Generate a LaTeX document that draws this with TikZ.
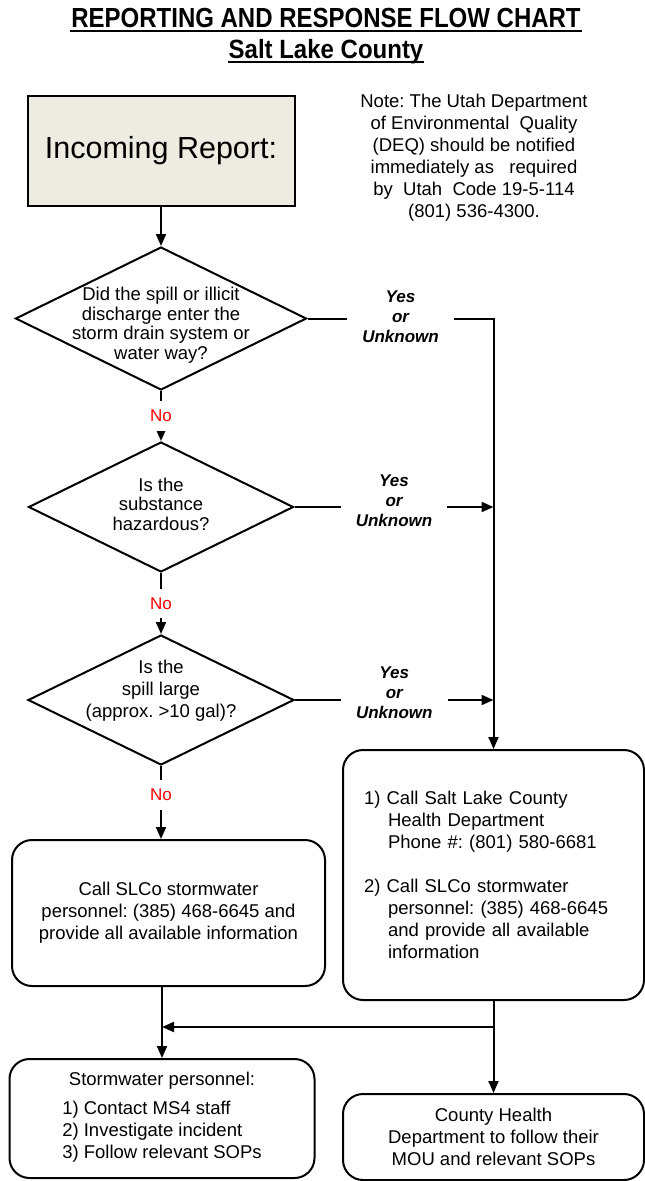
\documentclass[tikz,border=0pt]{standalone}
\usepackage{fontspec}
\setmainfont{Liberation Sans}
\usepackage{tikz}
\usetikzlibrary{shapes,arrows.meta,positioning,calc}
\definecolor{beige}{RGB}{238,236,225}
\frenchspacing

\begin{document}
\begin{tikzpicture}[x=1pt,y=-1pt,line width=2pt,
	>={Triangle[length=12pt,width=10pt]},
	body/.style={font=\fontsize{18.5}{22}\selectfont},
	decision/.style={diamond,draw=black,inner sep=0pt},
	box/.style={rectangle,draw=black,rounded corners=20pt,inner sep=0pt,body},
	nolab/.style={fill=white,text=red,font=\fontsize{17}{20}\selectfont,inner xsep=2pt,inner ysep=9pt},
	yeslab/.style={fill=white,align=center,inner xsep=15pt,inner ysep=0pt,
		font=\fontsize{17}{20}\selectfont\bfseries\itshape}]
	\useasboundingbox (0,0) rectangle (645,1181);

	\node (title) [anchor=base,inner sep=0pt] at (326,27) {\fontsize{24}{28}\selectfont\bfseries\scalebox{1}[1.15]{REPORTING AND RESPONSE FLOW CHART}};
	\node (county) [anchor=base,inner sep=0pt] at (326,58) {\fontsize{24}{28}\selectfont\bfseries\scalebox{1}[1.1]{Salt Lake County}};
	\draw ([yshift=-3.5pt]title.base west) -- ([yshift=-3.5pt]title.base east);
	\draw ([yshift=-4pt]county.base west) -- ([yshift=-4pt]county.base east);

	\node (inc) [rectangle,draw=black,fill=beige,minimum width=267pt,minimum height=110pt,
		font=\fontsize{30.5}{34}\selectfont] at (161,151) {\raisebox{4pt}{Incoming Report:}};
	\node (note) [body,align=center] at (474,158) {Note: The Utah Department\\of Environmental\ \ Quality\\(DEQ) should be\ notified\\immediately as\ \ \ required\\by\ \ Utah\ \ Code 19-5-114\\(801) 536-4300.};

	% questions
	\node (q1) [decision,minimum width=291pt,minimum height=143pt] at (161,318.5) {};
	\node (q1t) [body,align=center,font=\fontsize{18.5}{19.5}\selectfont] at (161,325) {Did the spill or illicit\\discharge enter the\\storm drain system or\\water way?};
	\node (q2) [decision,minimum width=265pt,minimum height=130pt] at (161,507) {};
	\node (q2t) [body,align=center,font=\fontsize{18.5}{19.5}\selectfont] at (161,504) {Is the\\substance\\hazardous?};
	\node (q3) [decision,minimum width=266pt,minimum height=130pt] at (161,700) {};
	\node (q3t) [body,align=center,font=\fontsize{18.5}{22}\selectfont] at (161,691) {Is the\\spill large\\(approx. >10 gal)?};

	% outcomes
	\node (call) [box,minimum width=313pt,minimum height=146pt,align=center] at (168.5,913) {Call SLCo stormwater\\personnel: (385) 468-6645 and\\provide all available information};
	\node (health) [box,minimum width=301pt,minimum height=250pt,text width=259pt,align=left] at (493.5,875) {1)\ Call Salt Lake County\\\hspace*{24pt}Health Department\\\hspace*{24pt}Phone \#: (801) 580-6681\\[22pt]2)\ Call SLCo stormwater\\\hspace*{24pt}personnel: (385) 468-6645\\\hspace*{24pt}and provide all available\\\hspace*{24pt}information};
	\node (sw) [box,minimum width=305pt,minimum height=119pt,align=center] at (162,1118.5) {Stormwater personnel:\\[9pt]\begin{tabular}{@{}l@{}}1) Contact MS4 staff\\2) Investigate incident\\3) Follow relevant SOPs\end{tabular}};
	\node (cohealth) [box,minimum width=301pt,minimum height=86pt,align=center] at (493.5,1137) {County Health\\Department to follow their\\MOU and relevant SOPs};
	\coordinate (split) at ($(health.south)+(0,26)$);

	\path[->] (inc) edge (q1);
	\path[->] (q1) edge node[nolab] {No} (q2);
	\path[->] (q2) edge node[nolab] {No} (q3);
	\path[->] (q3.south) edge node[nolab,pos=0.4] {No} (q3.south |- call.north);

	\draw[->] (q1.east) -- node[yeslab,yshift=2pt] {Yes\\or\\Unknown} (q1.east -| health.north) -- (health.north);
	\draw[->] (q2.east) -- node[yeslab,yshift=6pt] {Yes\\or\\Unknown} (q2.east -| health.north);
	\draw[->] (q3.east) -- node[yeslab,yshift=7pt] {Yes\\or\\Unknown} (q3.east -| health.north);

	\path[->] (sw.north |- call.south) edge (sw.north);
	\path[->] (health) edge (cohealth);
	\draw[->] (split) -- (split -| sw.north);
\end{tikzpicture}
\end{document}
